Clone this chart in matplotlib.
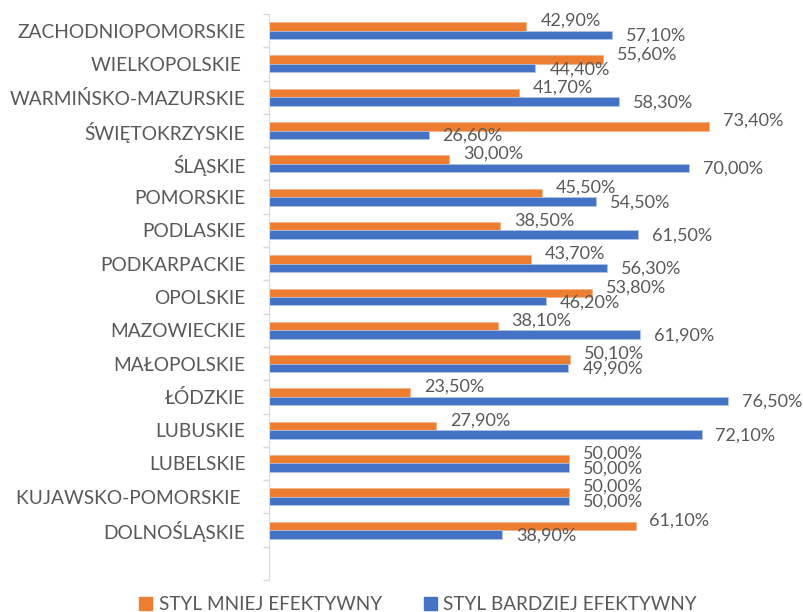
import matplotlib.pyplot as plt
import numpy as np

categories = ["ZACHODNIOPOMORSKIE", "WIELKOPOLSKIE ", "WARMIŃSKO-MAZURSKIE", "ŚWIĘTOKRZYSKIE",
              "ŚLĄSKIE", "POMORSKIE", "PODLASKIE", "PODKARPACKIE", "OPOLSKIE", "MAZOWIECKIE",
              "MAŁOPOLSKIE", "ŁÓDZKIE", "LUBUSKIE", "LUBELSKIE", "KUJAWSKO-POMORSKIE ", "DOLNOŚLĄSKIE"]
mniej = [42.9, 55.6, 41.7, 73.4, 30.0, 45.5, 38.5, 43.7, 53.8, 38.1, 50.1, 23.5, 27.9, 50.0, 50.0, 61.1]
bardziej = [57.1, 44.4, 58.3, 26.6, 70.0, 54.5, 61.5, 56.3, 46.2, 61.9, 49.9, 76.5, 72.1, 50.0, 50.0, 38.9]
series_names = ["STYL MNIEJ EFEKTYWNY", "STYL BARDZIEJ EFEKTYWNY"]

ORANGE = "#ED7D31"
BLUE = "#4472C4"
TXT = "#595959"
plt.rcParams['font.family'] = ['Lato', 'DejaVu Sans']

fig = plt.figure(figsize=(8.04, 6.12), dpi=100)
# axes in pixels: left 269, right 779, top 14, bottom 580
ax = fig.add_axes([269/804, 32/612, 510/804, 566/612])

y = np.arange(len(categories))
h = 0.255
ax.barh(y - h/2, mniej, height=h, color=ORANGE, edgecolor="#F4B183", linewidth=0.5)
ax.barh(y + h/2, bardziej, height=h, color=BLUE, edgecolor="#B4C7E7", linewidth=0.5)

def fmt(v):
    return f"{v:.2f}%".replace(".", ",")

for i, (a, b) in enumerate(zip(mniej, bardziej)):
    ax.annotate(fmt(a), (a, i - h/2), xytext=(10, 4), textcoords="offset points",
                va="center", ha="left", fontsize=13, color=TXT)
    ax.annotate(fmt(b), (b, i + h/2), xytext=(10, -0.7), textcoords="offset points",
                va="center", ha="left", fontsize=13, color=TXT)

ax.set_xlim(0, 85)
ax.set_ylim(len(categories) + 0.5, -0.5)
ax.set_yticks(y)
ax.set_yticklabels(categories, fontsize=13.8, color=TXT)
ax.set_yticks(np.arange(-0.5, len(categories) + 1), minor=True)
ax.tick_params(axis="y", which="major", length=0, pad=17)
ax.tick_params(axis="y", which="minor", length=4, color="#D9D9D9", width=1)
ax.set_xticks([])
for s in ["top", "right", "bottom"]:
    ax.spines[s].set_visible(False)
ax.spines["left"].set_color("#D9D9D9")

handles = [plt.Rectangle((0, 0), 1, 1, color=ORANGE), plt.Rectangle((0, 0), 1, 1, color=BLUE)]
fig.legend(handles, series_names, loc="lower center", bbox_to_anchor=(0.52, -0.03), ncol=2,
           frameon=False, handlelength=0.7, handleheight=0.7, handletextpad=0.35,
           columnspacing=2.2, prop={"size": 13.6}, labelcolor=TXT)

fig.savefig("out.png", dpi=100)
